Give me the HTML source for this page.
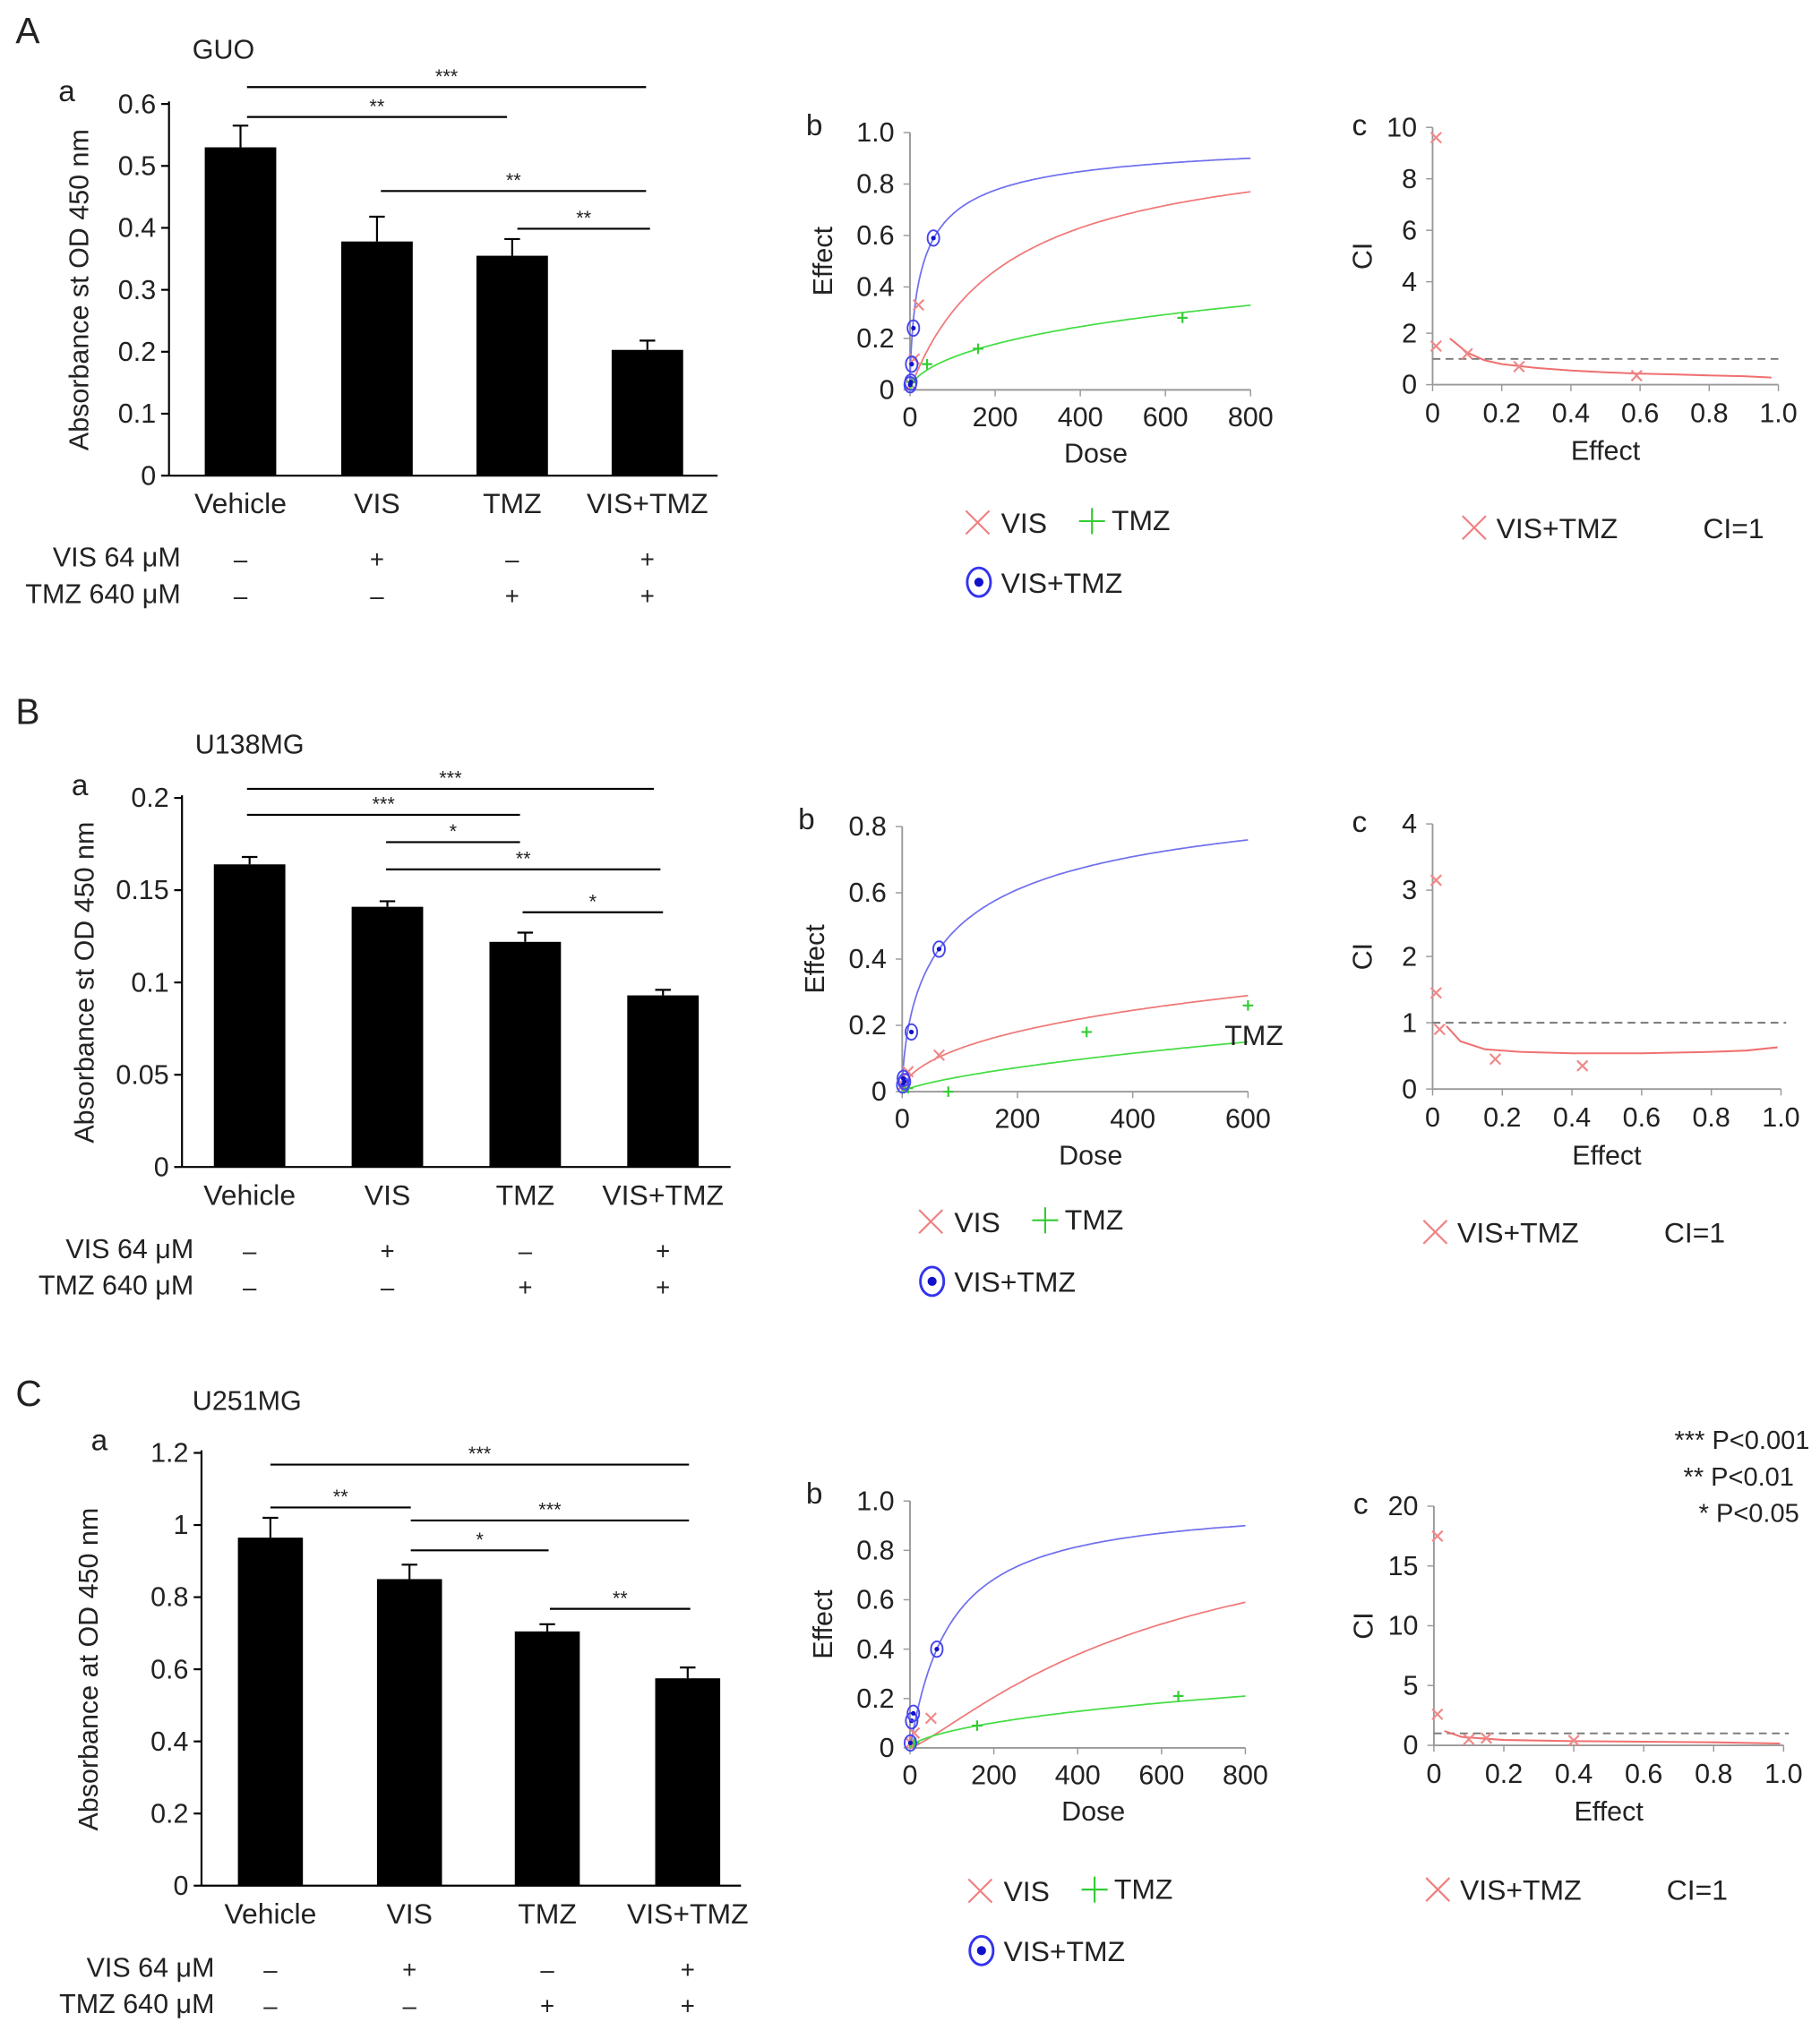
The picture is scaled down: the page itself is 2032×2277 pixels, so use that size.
<!DOCTYPE html>
<html><head><meta charset="utf-8">
<style>
html,body{margin:0;padding:0;background:#fff;}
svg{display:block;font-family:"Liberation Sans",sans-serif;}
</style></head>
<body>
<svg id="fig" width="2032" height="2277" viewBox="0 0 1400 1569" preserveAspectRatio="none" xmlns="http://www.w3.org/2000/svg"></svg>
<script>
// ---------- DATA ----------
const barCategories = ["Vehicle","VIS","TMZ","VIS+TMZ"];
const visSigns = ["–","+","–","+"];
const tmzSigns = ["–","–","+","+"];
const guoValues = [0.53,0.378,0.355,0.203];
const guoErrors = [0.035,0.04,0.027,0.015];
const guoTicks = [0,0.1,0.2,0.3,0.4,0.5,0.6];
const u138Values = [0.164,0.141,0.122,0.093];
const u138Errors = [0.004,0.003,0.005,0.003];
const u138Ticks = [0,0.05,0.1,0.15,0.2];
const u251Values = [0.965,0.85,0.705,0.575];
const u251Errors = [0.055,0.04,0.02,0.03];
const u251Ticks = [0,0.2,0.4,0.6,0.8,1,1.2];
// median-effect params [Dm, m]
const guoVisParams=[233,0.98], guoTmzParams=[2680,0.59], guoComboParams=[33,0.69];
const u138VisParams=[2976,0.56], u138TmzParams=[6250,0.74], u138ComboParams=[99.5,0.64];
const u251VisParams=[597,1.24], u251TmzParams=[6900,0.615], u251ComboParams=[95,1.03];
const guoVisPts=[[2,0.02],[10,0.12],[20,0.33]];
const guoTmzPts=[[4,0.03],[40,0.1],[160,0.16],[640,0.28]];
const guoComboPts=[[0.5,0.02],[2,0.03],[4,0.1],[8,0.24],[55,0.59]];
const u138VisPts=[[2,0.02],[10,0.06],[64,0.11]];
const u138TmzPts=[[10,0.01],[80,0.0],[320,0.18],[600,0.26]];
const u138ComboPts=[[1,0.02],[2,0.04],[4,0.03],[16,0.18],[64,0.43]];
const u251VisPts=[[2,0.02],[10,0.06],[50,0.12]];
const u251TmzPts=[[10,0.02],[160,0.09],[640,0.21]];
const u251ComboPts=[[1,0.02],[4,0.11],[8,0.14],[64,0.4]];
const guoCiPts=[[0.01,9.6],[0.01,1.5],[0.1,1.2],[0.25,0.7],[0.59,0.35]];
const guoCiCurve=[[0.05,1.8],[0.1,1.25],[0.15,0.95],[0.2,0.8],[0.3,0.65],[0.4,0.55],[0.5,0.48],[0.6,0.43],[0.7,0.4],[0.8,0.36],[0.9,0.33],[0.98,0.28]];
const u138CiPts=[[0.01,3.15],[0.01,1.45],[0.02,0.9],[0.18,0.45],[0.43,0.35]];
const u138CiCurve=[[0.04,0.95],[0.08,0.72],[0.15,0.6],[0.25,0.56],[0.4,0.54],[0.6,0.54],[0.8,0.56],[0.9,0.58],[0.99,0.63]];
const u251CiPts=[[0.01,17.5],[0.01,2.6],[0.1,0.5],[0.15,0.6],[0.4,0.4]];
const u251CiCurve=[[0.03,1.2],[0.08,0.7],[0.2,0.45],[0.4,0.35],[0.6,0.3],[0.8,0.25],[0.99,0.15]];
const guoCiTicks=[0,2,4,6,8,10], u138CiTicks=[0,1,2,3,4], u251CiTicks=[0,5,10,15,20];
const effTicks=[0,0.2,0.4,0.6,0.8,1.0];

const NS="http://www.w3.org/2000/svg";
const svg=document.getElementById("fig");
function mk(tag,attrs,parent){const e=document.createElementNS(NS,tag);for(const k in attrs)e.setAttribute(k,attrs[k]);(parent||svg).appendChild(e);return e;}
function txt(x,y,s,size,anchor,parent,extra){const t=mk("text",Object.assign({x:x,y:y,"font-size":size,"text-anchor":anchor||"start",fill:"#222"},extra||{}),parent);t.textContent=s;return t;}
function fmt(v){return String(+v.toFixed(2));}

function barChart(cfg){
  const g=mk("g",{});
  
  
  const y=v=>cfg.y0-(v-0)/cfg.ymax*(cfg.y0-cfg.ytop);
  mk("line",{x1:cfg.ax,y1:cfg.ytop-2,x2:cfg.ax,y2:cfg.y0,stroke:"#000","stroke-width":1.5},g);
  mk("line",{x1:cfg.ax,y1:cfg.y0,x2:cfg.axEnd,y2:cfg.y0,stroke:"#000","stroke-width":1.5},g);
  cfg.ticks.forEach(t=>{
    mk("line",{x1:cfg.ax-6,y1:y(t),x2:cfg.ax,y2:y(t),stroke:"#000","stroke-width":1.5},g);
    const tl=txt(cfg.ax-10,y(t)+7,fmt(t),21,"end",g);
    
  });
  cfg.values.forEach((v,i)=>{
    const cx=cfg.centers[i];
    const r=mk("rect",{x:cx-cfg.bw/2,y:y(v),width:cfg.bw,height:cfg.y0-y(v),fill:"#000"},g);
    
    
    const e=cfg.errors[i];
    mk("line",{x1:cx,y1:y(v),x2:cx,y2:y(v+e),stroke:"#000","stroke-width":1.5},g);
    mk("line",{x1:cx-6,y1:y(v+e),x2:cx+6,y2:y(v+e),stroke:"#000","stroke-width":1.5},g);
    const cl=txt(cx,cfg.y0+29,barCategories[i],22,"middle",g);
    
    txt(cx,cfg.y0+71,visSigns[i],19,"middle",g);
    txt(cx,cfg.y0+99,tmzSigns[i],19,"middle",g);
  });
  const r1=txt(cfg.rowX,cfg.y0+70,"VIS 64 μM",21,"end",g); 
  const r2=txt(cfg.rowX,cfg.y0+98,"TMZ 640 μM",21,"end",g); 
  cfg.sig.forEach(s=>{
    mk("line",{x1:s[0],y1:s[2],x2:s[1],y2:s[2],stroke:"#000","stroke-width":1.5},g);
    txt((s[0]+s[1])/2,s[2]-3,s[3],15,"middle",g);
  });
  const yt=txt(0,0,cfg.ytitle,21,"middle",g,{transform:`translate(${cfg.ytx},${(cfg.ytop+cfg.y0)/2}) rotate(-90)`});
  
  txt(cfg.ax-85,cfg.ytop-2,"a",23,"start",g);
}

function medEff(D,p){if(D<=0)return 0;const r=Math.pow(D/p[0],p[1]);return r/(1+r);}
function xMark(g,x,y,c,s){mk("path",{d:`M${x-s},${y-s}L${x+s},${y+s}M${x-s},${y+s}L${x+s},${y-s}`,stroke:c,"stroke-width":1.5,fill:"none"},g);}
function plusMark(g,x,y,c,s){mk("path",{d:`M${x-s},${y}L${x+s},${y}M${x},${y-s}L${x},${y+s}`,stroke:c,"stroke-width":1.5,fill:"none"},g);}
function circMark(g,x,y,c,s){mk("ellipse",{cx:x,cy:y,rx:s*0.75,ry:s,stroke:c,"stroke-width":1.3,fill:"none"},g);mk("circle",{cx:x,cy:y,r:1.8,fill:"#11c"},g);}

function doseChart(cfg){
  const g=mk("g",{});
  
  
  const X=d=>cfg.x0+d/cfg.xmax*(cfg.x1-cfg.x0);
  const Y=v=>cfg.y0-v/cfg.ymax*(cfg.y0-cfg.y1);
  mk("line",{x1:cfg.x0,y1:cfg.y1,x2:cfg.x0,y2:cfg.y0,stroke:"#999","stroke-width":1.3},g);
  mk("line",{x1:cfg.x0,y1:cfg.y0,x2:cfg.x1,y2:cfg.y0,stroke:"#999","stroke-width":1.3},g);
  cfg.yticks.forEach(t=>{mk("line",{x1:cfg.x0-5,y1:Y(t),x2:cfg.x0,y2:Y(t),stroke:"#999"},g);txt(cfg.x0-12,Y(t)+7,t===0?"0":t.toFixed(1),21,"end",g);});
  cfg.xticks.forEach(t=>{mk("line",{x1:X(t),y1:cfg.y0,x2:X(t),y2:cfg.y0+5,stroke:"#999"},g);txt(X(t),cfg.y0+28,String(t),21,"middle",g);});
  const xt=txt((cfg.x0+cfg.x1)/2+12,cfg.y0+56,"Dose",21,"middle",g); 
  const yt=txt(0,0,"Effect",21,"middle",g,{transform:`translate(${cfg.x0-60},${(cfg.y0+cfg.y1)/2}) rotate(-90)`}); 
  txt(cfg.x0-80,cfg.y1+2,"b",23,"start",g);
  [[cfg.combo,"#7070ee","combo"],[cfg.vis,"#f07878","vis"],[cfg.tmz,"#44dd44","tmz"]].forEach(([p,c,n])=>{
    let d="";for(let i=0;i<=200;i++){const D=cfg.xmax*Math.pow(i/200,2);d+=(i?"L":"M")+X(D).toFixed(1)+","+Y(medEff(D,p)).toFixed(1);}
    const pa=mk("path",{d:d,stroke:c,"stroke-width":1.2,fill:"none"},g);
    
  });
  cfg.visPts.forEach(p=>xMark(g,X(p[0]),Y(p[1]),"#f08888",4));
  cfg.tmzPts.forEach(p=>plusMark(g,X(p[0]),Y(p[1]),"#33cc33",4));
  cfg.comboPts.forEach(p=>circMark(g,X(p[0]),Y(p[1]),"#4444ee",6));
  const lg=mk("g",{},g);
  
  
  const lx=cfg.legX, ly=cfg.legY;
  xMark(lg,lx,ly-6,"#f08080",9); txt(lx+18,ly+2,"VIS",22,"start",lg);
  plusMark(lg,lx+88,ly-7,"#33cc33",10); txt(lx+103,ly,"TMZ",22,"start",lg);
  mk("ellipse",{cx:lx+1,cy:ly+40,rx:9,ry:11,stroke:"#3333ee","stroke-width":2,fill:"none"},lg);
  mk("circle",{cx:lx+1,cy:ly+40,r:3.5,fill:"#1111cc"},lg);
  txt(lx+18,ly+48,"VIS+TMZ",22,"start",lg);
  if(cfg.tmzLabel) txt(cfg.x1-18,cfg.y0-36,"TMZ",22,"start",g);
}

function ciChart(cfg){
  const g=mk("g",{});
  
  
  const X=v=>cfg.x0+v*(cfg.x1-cfg.x0);
  const Y=v=>cfg.y0-v/cfg.ymax*(cfg.y0-cfg.y1);
  mk("line",{x1:cfg.x0,y1:cfg.y1,x2:cfg.x0,y2:cfg.y0,stroke:"#999","stroke-width":1.3},g);
  mk("line",{x1:cfg.x0,y1:cfg.y0,x2:cfg.x1,y2:cfg.y0,stroke:"#999","stroke-width":1.3},g);
  cfg.yticks.forEach(t=>{mk("line",{x1:cfg.x0-5,y1:Y(t),x2:cfg.x0,y2:Y(t),stroke:"#999"},g);txt(cfg.x0-12,Y(t)+7,String(t),21,"end",g);});
  effTicks.forEach(t=>{mk("line",{x1:X(t),y1:cfg.y0,x2:X(t),y2:cfg.y0+5,stroke:"#999"},g);txt(X(t),cfg.y0+29,t===0?"0":t.toFixed(1),21,"middle",g);});
  const xt=txt((cfg.x0+cfg.x1)/2,cfg.y0+58,"Effect",21,"middle",g); 
  const yt=txt(0,0,"CI",21,"middle",g,{transform:`translate(${cfg.x0-47},${(cfg.y0+cfg.y1)/2}) rotate(-90)`}); 
  txt(cfg.x0-62,cfg.y1+6,"c",23,"start",g);
  const dl=mk("line",{x1:cfg.x0,y1:Y(1),x2:cfg.x1+4,y2:Y(1),stroke:"#777","stroke-width":1.3,"stroke-dasharray":"6,4"},g);
  
  let d="";cfg.curve.forEach((p,i)=>{d+=(i?"L":"M")+X(p[0]).toFixed(1)+","+Y(p[1]).toFixed(1);});
  const cp=mk("path",{d:d,stroke:"#f07070","stroke-width":1.4,fill:"none"},g);
  
  cfg.pts.forEach(p=>xMark(g,X(p[0]),Y(p[1]),"#f08888",4));
  const lg=mk("g",{},g);
  
  
  xMark(lg,cfg.legX,cfg.legY-6,"#f08080",9);
  txt(cfg.legX+17,cfg.legY+2,"VIS+TMZ",22,"start",lg);
  txt(cfg.legX+176,cfg.legY+2,"CI=1",22,"start",lg);
}

// ---------- Panel A ----------
txt(12,33,"A",28,"start");
txt(148,45,"GUO",21,"start");
barChart({name:"guo-bar-chart",ax:130,axEnd:552,y0:366,ytop:80,ymax:0.6,ticks:guoTicks,values:guoValues,errors:guoErrors,centers:[185,290,394,498],bw:55,rowX:139,ytitle:"Absorbance st OD 450 nm",ytx:68,
  sig:[[190,497,67,"***"],[190,390,90,"**"],[293,497,147,"**"],[398,500,176,"**"]]});
doseChart({name:"guo-dose-effect-chart",x0:700,x1:962,y0:300,y1:102,xmax:800,ymax:1,yticks:effTicks,xticks:[0,200,400,600,800],vis:guoVisParams,tmz:guoTmzParams,combo:guoComboParams,visPts:guoVisPts,tmzPts:guoTmzPts,comboPts:guoComboPts,legX:752,legY:408});
ciChart({name:"guo-ci-chart",x0:1102,x1:1368,y0:296,y1:98,ymax:10,yticks:guoCiTicks,pts:guoCiPts,curve:guoCiCurve,legX:1134,legY:412});

// ---------- Panel B ----------
txt(12,557,"B",28,"start");
txt(150,580,"U138MG",21,"start");
barChart({name:"u138mg-bar-chart",ax:140,axEnd:562,y0:898,ytop:614,ymax:0.2,ticks:u138Ticks,values:u138Values,errors:u138Errors,centers:[192,298,404,510],bw:55,rowX:149,ytitle:"Absorbance st OD 450 nm",ytx:72,
  sig:[[190,503,607,"***"],[190,400,627,"***"],[297,400,648,"*"],[297,508,669,"**"],[402,510,702,"*"]]});
doseChart({name:"u138mg-dose-effect-chart",x0:694,x1:960,y0:840,y1:636,xmax:600,ymax:0.8,yticks:[0,0.2,0.4,0.6,0.8],xticks:[0,200,400,600],vis:u138VisParams,tmz:u138TmzParams,combo:u138ComboParams,visPts:u138VisPts,tmzPts:u138TmzPts,comboPts:u138ComboPts,legX:716,legY:946,tmzLabel:true});
ciChart({name:"u138mg-ci-chart",x0:1102,x1:1370,y0:838,y1:634,ymax:4,yticks:u138CiTicks,pts:u138CiPts,curve:u138CiCurve,legX:1104,legY:954});

// ---------- Panel C ----------
txt(12,1082,"C",28,"start");
txt(148,1085,"U251MG",21,"start");
barChart({name:"u251mg-bar-chart",ax:155,axEnd:570,y0:1451,ytop:1118,ymax:1.2,ticks:u251Ticks,values:u251Values,errors:u251Errors,centers:[208,315,421,529],bw:50,rowX:165,ytitle:"Absorbance at OD 450 nm",ytx:75,
  sig:[[208,530,1127,"***"],[208,316,1160,"**"],[316,530,1170,"***"],[316,422,1193,"*"],[423,531,1238,"**"]]});
doseChart({name:"u251mg-dose-effect-chart",x0:700,x1:958,y0:1345,y1:1155,xmax:800,ymax:1,yticks:effTicks,xticks:[0,200,400,600,800],vis:u251VisParams,tmz:u251TmzParams,combo:u251ComboParams,visPts:u251VisPts,tmzPts:u251TmzPts,comboPts:u251ComboPts,legX:754,legY:1461});
ciChart({name:"u251mg-ci-chart",x0:1103,x1:1372,y0:1343,y1:1159,ymax:20,yticks:u251CiTicks,pts:u251CiPts,curve:u251CiCurve,legX:1106,legY:1460});

const pn=mk("g",{});


txt(1392,1115,"*** P<0.001",20,"end",pn);
txt(1380,1143,"** P<0.01",20,"end",pn);
txt(1384,1171,"* P<0.05",20,"end",pn);
</script>
</body></html>
